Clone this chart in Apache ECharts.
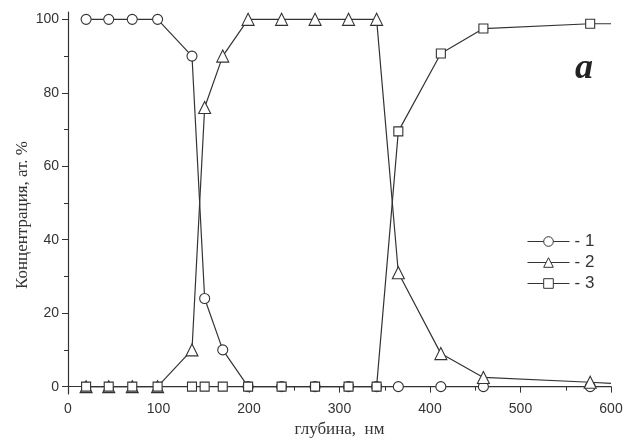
<!DOCTYPE html>
<html>
<head>
<meta charset="utf-8">
<script src="https://cdn.jsdelivr.net/npm/echarts@6/dist/echarts.min.js"></script>
<style>
  html, body { margin: 0; padding: 0; background: #fff; }
  #chart { width: 632px; height: 441px; }
</style>
</head>
<body>
<div id="chart"></div>
<script>
// depth, nm
const depth = [20, 45, 71, 99, 137, 151, 171, 199, 236, 273, 310, 341, 365, 412, 459, 577, 600];
// concentration, at. %
const conc1 = [100, 100, 100, 100, 90, 24, 10, 0, 0, 0, 0, 0, 0, 0, 0, 0, 0];
const conc2 = [0, 0, 0, 0, 10, 76, 90, 100, 100, 100, 100, 100, 31, 9, 2.5, 1.2, 0.9];
const conc3 = [0, 0, 0, 0, 0, 0, 0, 0, 0, 0, 0, 0, 69.5, 90.7, 97.5, 98.8, 98.8];
const names = ['- 1', '- 2', '- 3'];
const symbols = ['circle', 'triangle', 'rect'];
const sizes = [10, 12, 9];
const yMajor = [0, 20, 40, 60, 80, 100];
const yMinor = [10, 30, 50, 70, 90];

const ink = '#333';
const lastIdx = depth.length - 1;

function makeSeries(vals, idx) {
    return {
        type: 'line',
        name: names[idx],
        symbol: symbols[idx],
        symbolSize: sizes[idx],
        showAllSymbol: true,
        lineStyle: {color: ink, width: 1.2},
        itemStyle: {color: '#fff', borderColor: ink, borderWidth: 1.1},
        emphasis: {disabled: true},
        data: vals.map((v, i) => i === lastIdx
            ? {value: [depth[i], v], symbol: 'none'}
            : [depth[i], v])
    };
}

const chart = echarts.init(document.getElementById('chart'));
chart.setOption({
    animation: false,
    grid: {left: 68, right: 21, top: 12, bottom: 47, outerBoundsMode: 'none', containLabel: false},
    legend: {
        orient: 'vertical',
        left: 522,
        top: 228,
        itemWidth: 42,
        itemHeight: 12,
        itemGap: 4,
        itemStyle: {borderWidth: 1},
        lineStyle: {width: 1},
        textStyle: {fontFamily: 'Liberation Sans', fontSize: 17, color: ink},
        data: names
    },
    graphic: [{
        type: 'text',
        left: 575,
        top: 51,
        style: {text: 'a', font: 'bold italic 36px "Liberation Serif"', fill: '#222'}
    }],
    xAxis: {
        type: 'value',
        min: 0,
        max: 600,
        interval: 100,
        name: 'глубина,  нм',
        nameLocation: 'middle',
        nameGap: 25,
        nameTextStyle: {fontFamily: 'Liberation Serif', fontSize: 17, color: ink},
        axisLine: {lineStyle: {color: ink, width: 1.2}},
        axisTick: {length: 6, lineStyle: {color: ink}},
        minorTick: {show: true, splitNumber: 2, length: 4, lineStyle: {color: ink}},
        axisLabel: {fontFamily: 'Liberation Sans', fontSize: 14, color: ink, margin: 8},
        splitLine: {show: false}
    },
    yAxis: [{
        type: 'value',
        min: -2,
        max: 102,
        name: 'Концентрация, ат. %',
        nameLocation: 'middle',
        nameGap: 37,
        nameMoveOverlap: false,
        nameTextStyle: {fontFamily: 'Liberation Serif', fontSize: 17, color: ink, padding: [0, 24, 0, 0]},
        axisLine: {show: true, lineStyle: {color: ink, width: 1.2}},
        axisTick: {show: true, length: 6, customValues: yMajor, lineStyle: {color: ink}},
        axisLabel: {customValues: yMajor, fontFamily: 'Liberation Sans', fontSize: 14, color: ink, margin: 9},
        splitLine: {show: false}
    }, {
        type: 'value',
        position: 'left',
        min: -2,
        max: 102,
        axisLine: {show: false},
        axisTick: {show: true, length: 4, customValues: yMinor, lineStyle: {color: ink}},
        axisLabel: {show: false},
        splitLine: {show: false}
    }],
    series: [makeSeries(conc1, 0), makeSeries(conc2, 1), makeSeries(conc3, 2)]
});
</script>
</body>
</html>
